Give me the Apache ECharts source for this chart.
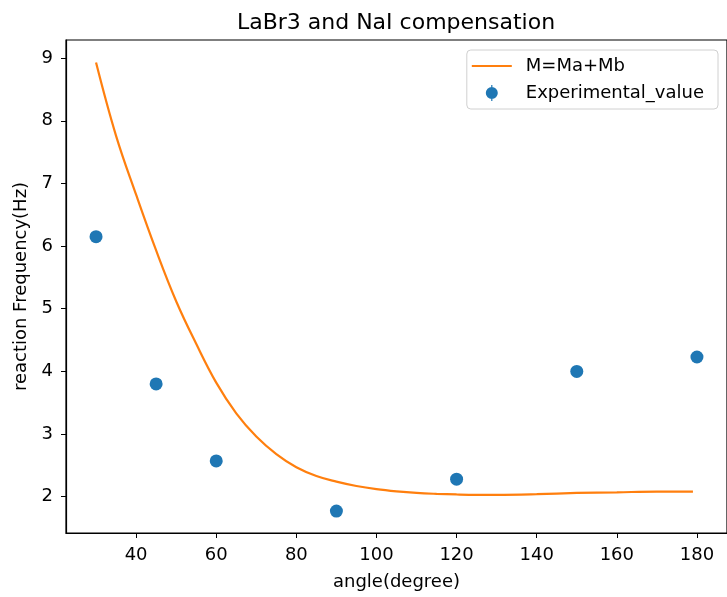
<!DOCTYPE html>
<html><head><meta charset="utf-8">
<script src="https://cdn.jsdelivr.net/npm/echarts@6/dist/echarts.min.js"></script>
<style>html,body{margin:0;padding:0;background:#fff}#c{width:727px;height:597px}</style>
</head><body><div id="c"></div>
<script>
const expAngles = [30, 45, 60, 90, 120, 150, 180];
const expValues = [6.15, 3.80, 2.57, 1.77, 2.28, 4.00, 4.23];
const fitAngles = [30, 35, 40, 45, 50, 55, 60, 65, 70, 75, 80, 85, 90, 95, 100, 105, 110, 115, 120, 125, 130, 140, 150, 160, 170, 179];
const fitValues = [8.93, 7.76, 6.82, 5.93, 5.12, 4.44, 3.82, 3.33, 2.96, 2.68, 2.47, 2.33, 2.24, 2.17, 2.12, 2.085, 2.06, 2.045, 2.035, 2.03, 2.03, 2.04, 2.06, 2.07, 2.08, 2.08];
const titleText = 'LaBr3 and NaI compensation';
const xName = 'angle(degree)';
const yName = 'reaction Frequency(Hz)';
const lineName = 'M=Ma+Mb';
const expName = 'Experimental_value';

const font = 'DejaVu Sans';
const chart = echarts.init(document.getElementById('c'), null, {renderer: 'canvas'});
chart.setOption({
  animation: false,
  backgroundColor: '#fff',
  title: {
    text: titleText, left: 391, top: 7, textAlign: 'center',
    textStyle: {fontFamily: font, fontSize: 22, fontWeight: 'normal', color: '#000'}
  },
  grid: {left: 66, top: 40, right: 0, bottom: 64, show: true, borderColor: '#000', borderWidth: 1.2, containLabel: false},
  legend: {
    orient: 'vertical', right: 9, top: 50,
    padding: [7, 14, 7, 5], itemGap: 9, itemWidth: 40, itemHeight: 16,
    backgroundColor: '#fff', borderColor: '#d0d0d0', borderWidth: 1, borderRadius: 4,
    textStyle: {fontFamily: font, fontSize: 18, color: '#000', padding: [0, 0, 0, 9]},
    data: [
      {name: lineName, icon: 'path://M0,0 L40,0 L40,2.2 L0,2.2 Z'},
      {name: expName, icon: 'path://M5.4,0 L6.6,0 L6.6,3 L5.4,3 Z M5.4,13 L6.6,13 L6.6,16 L5.4,16 Z M6,2 A6,6 0 1,1 5.999,2 Z'}
    ]
  },
  xAxis: {
    type: 'value', min: 22.5, max: 187.5, splitNumber: 8,
    name: xName, nameLocation: 'middle', nameGap: 40,
    nameTextStyle: {fontFamily: font, fontSize: 18, color: '#000'},
    axisLine: {show: true, lineStyle: {color: '#000', width: 1.2}},
    axisTick: {show: true, inside: false, length: 5, lineStyle: {color: '#000'}},
    axisLabel: {fontFamily: font, fontSize: 18, color: '#000', margin: 13, showMinLabel: false, showMaxLabel: false},
    splitLine: {show: false}
  },
  yAxis: {
    type: 'value', min: 1.42, max: 9.29, splitNumber: 8,
    name: yName, nameLocation: 'middle', nameGap: 28, nameRotate: 90,
    nameTextStyle: {fontFamily: font, fontSize: 18, color: '#000'},
    axisLine: {show: true, lineStyle: {color: '#000', width: 1.2}},
    axisTick: {show: true, inside: false, length: 5, lineStyle: {color: '#000'}},
    axisLabel: {fontFamily: font, fontSize: 18, color: '#000', margin: 13, showMinLabel: false, showMaxLabel: false},
    splitLine: {show: false}
  },
  series: [
    {
      name: lineName, type: 'line', data: fitAngles.map((a, i) => [a, fitValues[i]]),
      smooth: 0.4, showSymbol: false, symbol: 'none',
      lineStyle: {color: '#ff7f0e', width: 2.2}, itemStyle: {color: '#ff7f0e'}, z: 2
    },
    {
      name: expName, type: 'scatter', data: expAngles.map((a, i) => [a, expValues[i]]),
      symbol: 'circle', symbolSize: 13, itemStyle: {color: '#1f77b4', opacity: 1}, z: 3
    }
  ]
});
</script></body></html>
